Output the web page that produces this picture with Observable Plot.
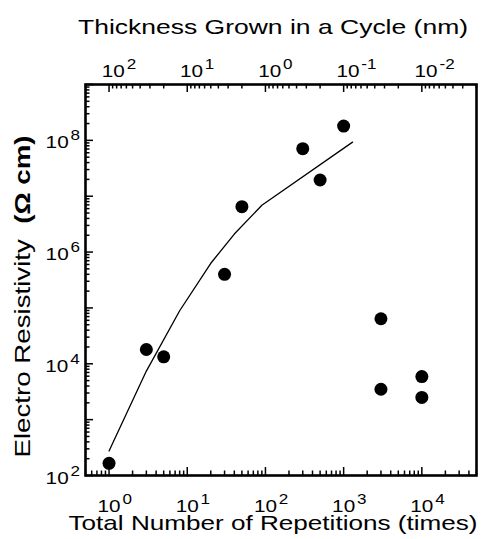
<!DOCTYPE html>
<html>
<head>
<meta charset="utf-8">
<script src="https://cdn.jsdelivr.net/npm/d3@7"></script>
<script src="https://cdn.jsdelivr.net/npm/@observablehq/plot@0.6"></script>
<style>
  body { margin: 0; background: #fff; }
  svg text { font-family: "Liberation Sans", Arial, sans-serif; }
</style>
</head>
<body>
<div id="chart"></div>
<script>
// ---- data ----
const repetitions = [1, 3, 5, 30, 50, 300, 500, 1000, 3000, 3000, 10000, 10000];
const resistivity = [165, 1.8e4, 1.33e4, 4.0e5, 6.5e6, 7.1e7, 1.95e7, 1.8e8, 6.4e4, 3.5e3, 5.9e3, 2.5e3];
const fitRepetitions = [1, 3, 8, 20, 40, 90, 1300];
const fitResistivity = [275, 7400, 8.9e4, 6.3e5, 2.1e6, 6.9e6, 9.3e7];

const repTicks = [1, 10, 100, 1000, 10000];
const repTickLabels = ["10^0", "10^1", "10^2", "10^3", "10^4"];
const thicknessTicks = [100, 10, 1, 0.1, 0.01];
const thicknessTickLabels = ["10^2", "10^1", "10^0", "10^-1", "10^-2"];
const resTicks = [1e2, 1e4, 1e6, 1e8];
const resTickLabels = ["10^2", "10^4", "10^6", "10^8"];
const cycleProductNm = 100; // thickness per cycle (nm) × repetitions

const xTitle = "Total Number of Repetitions (times)";
const topTitle = "Thickness Grown in a Cycle (nm)";
const yTitleMain = "Electro Resistivity  ";
const yTitleUnit = "(Ω cm)";

// ---- derived tables ----
const points = repetitions.map((r, i) => ({r, v: resistivity[i]}));
const fit = fitRepetitions.map((r, i) => ({r, v: fitResistivity[i]}));
const xDomain = [0.5, 5e4];
const yDomain = [1e2, 1e9];

function logTicks(lo, hi, mults) {
  const out = [];
  for (let k = Math.floor(Math.log10(lo)) - 1; k <= Math.ceil(Math.log10(hi)) + 1; k++)
    for (const m of mults) {
      const v = m * Math.pow(10, k);
      if (v >= lo * 0.9999 && v <= hi * 1.0001) out.push(v);
    }
  return out;
}
const minorM = [2, 3, 4, 5, 6, 7, 8, 9];
const xMajor = logTicks(xDomain[0], xDomain[1], [1]);
const xMinor = logTicks(xDomain[0], xDomain[1], minorM);
const tLo = cycleProductNm / xDomain[1], tHi = cycleProductNm / xDomain[0];
const tMajor = logTicks(tLo, tHi, [1]).map(t => cycleProductNm / t);
const tMinor = logTicks(tLo, tHi, minorM).map(t => cycleProductNm / t);
const yMajor = logTicks(yDomain[0], yDomain[1], [1]);
const yMinor = logTicks(yDomain[0], yDomain[1], minorM);

function lookup(ticks, labels) {
  return d => {
    const i = ticks.findIndex(t => Math.abs(Math.log10(t) - Math.log10(d)) < 1e-6);
    return i >= 0 ? labels[i] : "";
  };
}

const W = 484, H = 539, ML = 85, MR = 8, MT = 84, MB = 64;
const PW = W - ML - MR, PH = H - MT - MB;
const MAJ = 8, MIN = 4.5;
// inward ticks as rules inset from the opposite side of the frame
const tickOpts = {stroke: "black", strokeWidth: 1.5};
const bottomTicks = (v, len) => Plot.ruleX(v, {x: d => d, insetTop: PH - len, ...tickOpts});
const topTicks = (v, len) => Plot.ruleX(v, {x: d => d, insetBottom: PH - len, ...tickOpts});
const leftTicks = (v, len) => Plot.ruleY(v, {y: d => d, insetRight: PW - len, ...tickOpts});

const svg = Plot.plot({
  width: W,
  height: H,
  marginLeft: ML,
  marginRight: MR,
  marginTop: MT,
  marginBottom: MB,
  style: {background: "white", color: "black", fontFamily: "Liberation Sans, Arial, sans-serif"},
  x: {type: "log", domain: xDomain},
  y: {type: "log", domain: yDomain},
  marks: [
    // tick labels
    Plot.axisX(repTicks, {anchor: "bottom", tickSize: 0, tickPadding: 0, label: null, fontSize: 17,
      tickFormat: lookup(repTicks, repTickLabels), className: "lab-bottom"}),
    Plot.axisX(thicknessTicks.map(t => cycleProductNm / t), {anchor: "top", tickSize: 0, tickPadding: 0, label: null, fontSize: 17,
      tickFormat: lookup(thicknessTicks.map(t => cycleProductNm / t), thicknessTickLabels), className: "lab-top"}),
    Plot.axisY(resTicks, {anchor: "left", tickSize: 0, tickPadding: 6, label: null, fontSize: 17,
      tickFormat: lookup(resTicks, resTickLabels), className: "lab-left"}),
    // axis titles
    Plot.text([xTitle], {frameAnchor: "bottom", text: d => d, dx: -8, dy: 54, fontSize: 21, textAnchor: "middle", className: "title-bottom"}),
    Plot.text([topTitle], {frameAnchor: "top", text: d => d, dx: -8, dy: -51, fontSize: 21, textAnchor: "middle", className: "title-top"}),
    Plot.text([yTitleMain + yTitleUnit], {frameAnchor: "left", text: d => d, rotate: -90, dx: -56, dy: 16.5, fontSize: 22, textAnchor: "middle", className: "title-left"}),
    // data
    Plot.line(fit, {x: "r", y: "v", stroke: "black", strokeWidth: 1.3}),
    Plot.dot(points, {x: "r", y: "v", r: 6.5, fill: "black", stroke: "none"}),
    Plot.frame({stroke: "black", strokeWidth: 2.6}),
    // inward ticks on top of everything
    bottomTicks(xMinor, MIN),
    bottomTicks(xMajor, MAJ),
    topTicks(tMinor, MIN),
    topTicks(tMajor, MAJ),
    leftTicks(yMinor, MIN),
    leftTicks(yMajor, MAJ)
  ]
});
document.getElementById("chart").append(svg);

// ---- text post-processing: superscripts and stretched type ----
const NS = "http://www.w3.org/2000/svg";
function superscript(t, baseSize, supSize, rise) {
  const m = t.textContent.match(/^(\d+)\^(.+)$/);
  t.textContent = "";
  const b = document.createElementNS(NS, "tspan");
  b.setAttribute("font-size", baseSize);
  b.textContent = m ? m[1] : "";
  const p = document.createElementNS(NS, "tspan");
  p.setAttribute("font-size", supSize);
  p.setAttribute("dy", -rise);
  p.setAttribute("dx", 1.5);
  p.textContent = m ? m[2] : "";
  t.append(b, p);
  return b;
}
const SX = 1.22;
function fixX(sel, yOff, shift) {
  svg.querySelectorAll(sel).forEach(t => {
    const b = superscript(t, 17, 14, 8);
    t.setAttribute("text-anchor", "start");
    t.removeAttribute("dy");
    t.setAttribute("y", yOff);
    t.setAttribute("x", -b.getComputedTextLength() / 2 + shift);
    t.setAttribute("transform", (t.getAttribute("transform") || "") + ` scale(${SX},1)`);
  });
}
fixX("g.lab-bottom text", 37, 0);
fixX("g.lab-top text", -8, 3.5);
const svgRect = svg.getBoundingClientRect();
svg.querySelectorAll("g.lab-left text").forEach(t => {
  superscript(t, 17, 14, 8);
  t.setAttribute("text-anchor", "end");
  t.removeAttribute("dy");
  t.removeAttribute("dx");
  t.setAttribute("y", 8);
  t.setAttribute("x", 0);
  t.setAttribute("transform", (t.getAttribute("transform") || "") + ` scale(${SX},1)`);
  // right edge of the label 5px left of the frame
  const r = t.getBoundingClientRect();
  const target = ML - 5;
  const delta = target - (r.right - svgRect.left);
  t.setAttribute("x", delta / SX);
});
function fixTitle(sel, len) {
  svg.querySelectorAll(sel).forEach(t => {
    t.removeAttribute("dy");
    t.setAttribute("y", 0);
    t.setAttribute("textLength", len);
    t.setAttribute("lengthAdjust", "spacingAndGlyphs");
  });
}
fixTitle("g.title-bottom text", 409);
fixTitle("g.title-top text", 390);
svg.querySelectorAll("g.title-left text").forEach(t => {
  t.textContent = "";
  t.style.whiteSpace = "pre";
  const a = document.createElementNS(NS, "tspan");
  a.textContent = yTitleMain;
  const u = document.createElementNS(NS, "tspan");
  u.setAttribute("font-weight", "bold");
  u.textContent = yTitleUnit;
  t.append(a, u);
  t.removeAttribute("dy");
  t.setAttribute("y", 0);
  t.setAttribute("text-anchor", "middle");
  t.setAttribute("textLength", 322);
  t.setAttribute("lengthAdjust", "spacingAndGlyphs");
});
</script>
</body>
</html>
